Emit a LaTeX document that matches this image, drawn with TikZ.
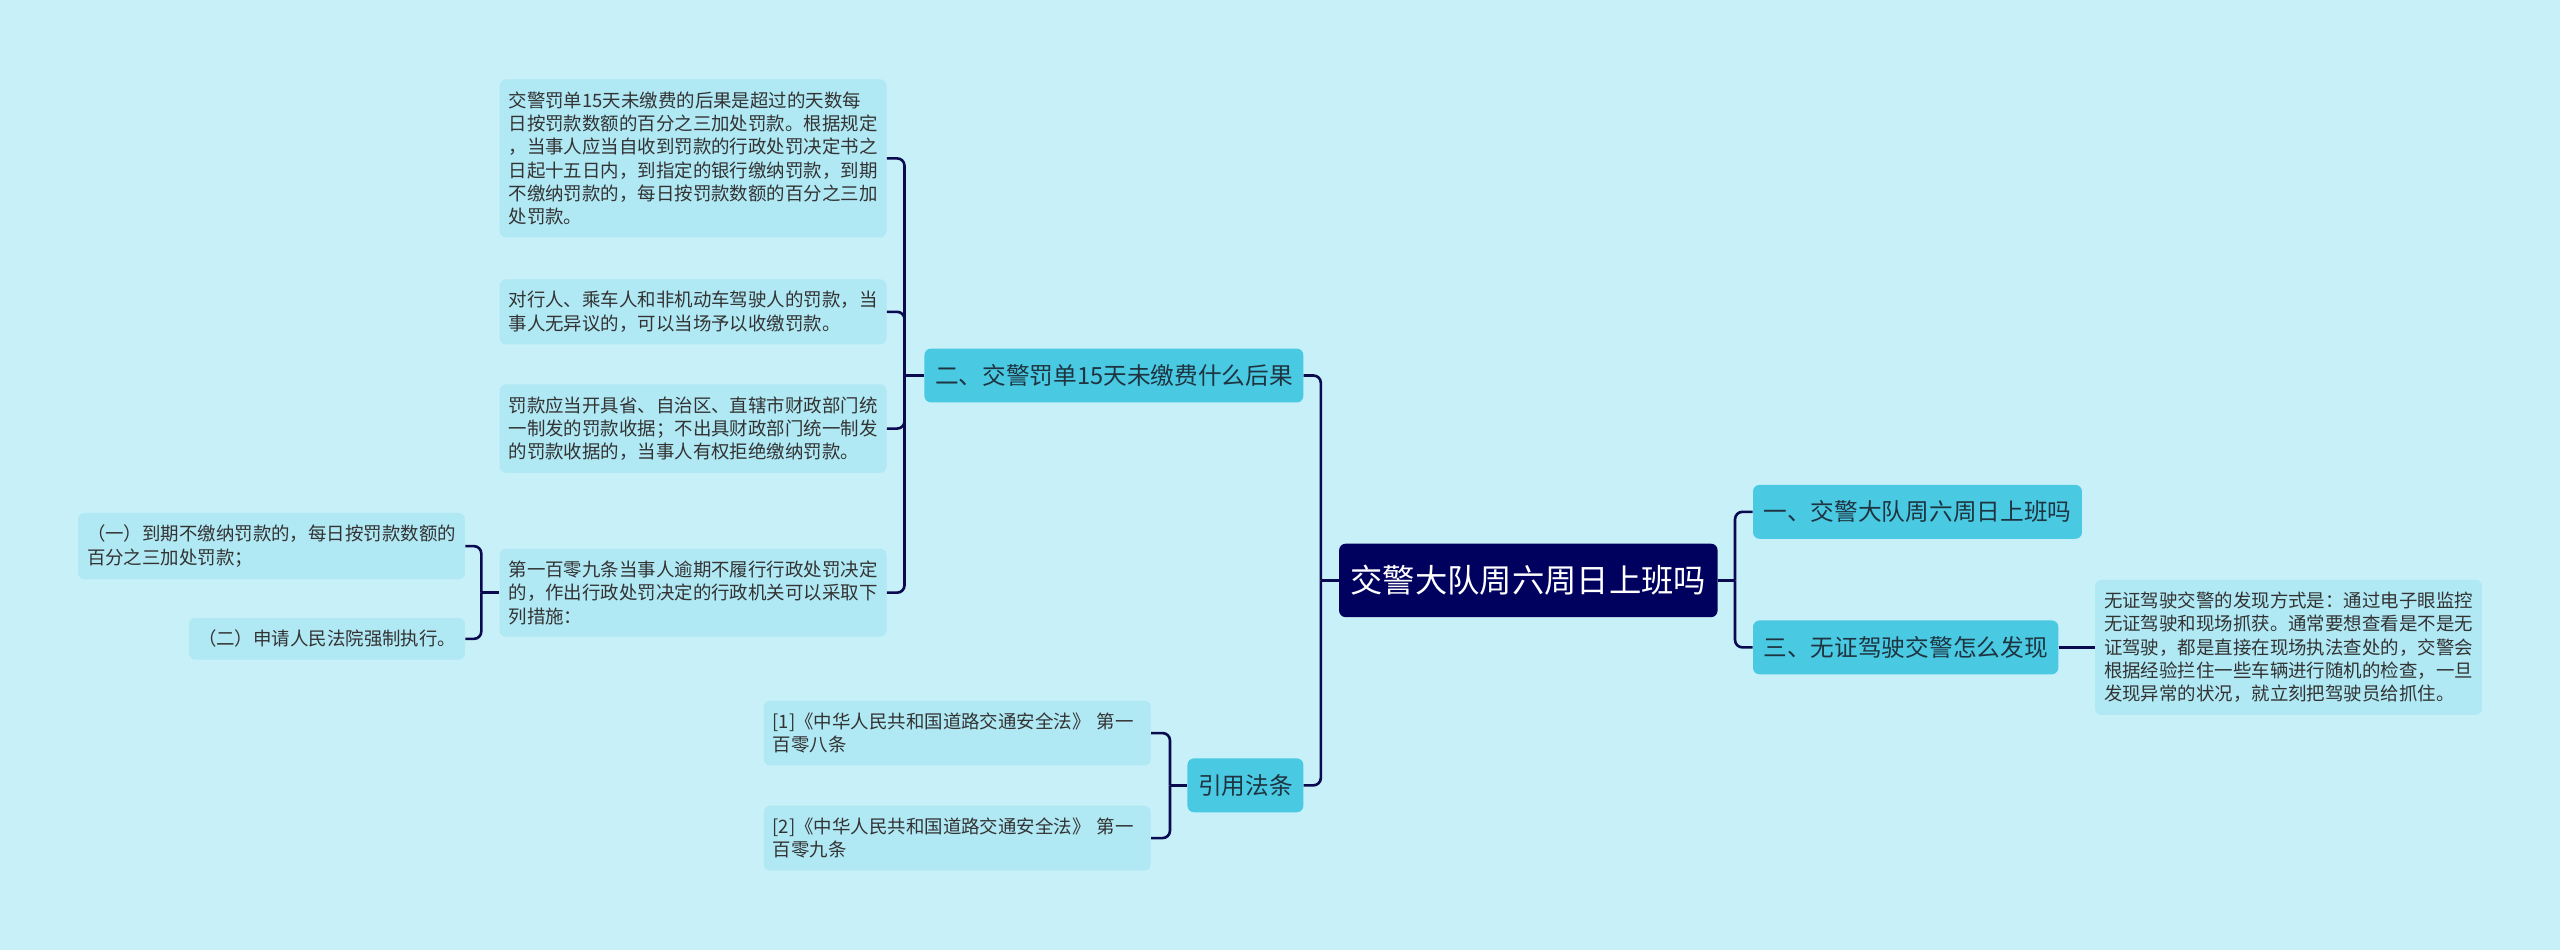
\documentclass[tikz,border=0pt]{standalone}
\usepackage{fontspec}
\newfontfamily\cjk{Noto Sans CJK SC}
\usetikzlibrary{positioning,calc}
\definecolor{pagebg}{HTML}{C8F0F8}
\definecolor{navy}{HTML}{00005E}
\definecolor{wireink}{HTML}{0A0A50}
\definecolor{topicfill}{HTML}{4AC9E3}
\definecolor{leaffill}{HTML}{B0E8F4}
\definecolor{ink}{HTML}{333333}
\definecolor{topicink}{HTML}{1E3440}
\tikzset{
  hubbox/.style={fill=navy, text=white, rounded corners=4pt,
    font=\cjk\fontsize{19.8}{24}\selectfont,
    inner xsep=7pt, inner ysep=0pt, minimum height=45pt},
  topic/.style={fill=topicfill, text=topicink, rounded corners=4pt,
    font=\cjk\fontsize{14.5}{17}\selectfont,
    inner xsep=6.5pt, inner ysep=0pt, minimum height=33pt},
  leaf/.style={fill=leaffill, text=ink, rounded corners=4pt,
    font=\cjk\fontsize{11.3}{14.3}\selectfont,
    align=left, text width=#1, inner xsep=5.5pt, inner ysep=7.4pt},
  leaf/.default=226pt,
  link/.style={draw=wireink, line width=1.6pt, rounded corners=4.5pt},
}

\begin{document}
\begin{tikzpicture}[x=1pt,y=-1pt]
  \fill[pagebg] (0,0) rectangle (1568,582);
  \useasboundingbox (0,0) rectangle (1568,582);

  % centre and right side
  \node[hubbox, anchor=west] (hub) at (820,355.5) {交警大队周六周日上班吗};
  \node[topic, anchor=west] (t1) at (1073.5,313.5) {一、交警大队周六周日上班吗};
  \node[topic, anchor=west] (t3) at (1073.5,396.5) {三、无证驾驶交警怎么发现};
  \node[leaf, anchor=west] (t3a) at (1283,396.5) {无证驾驶交警的发现方式是：通过电子眼监控\\
    无证驾驶和现场抓获。通常要想查看是不是无\\
    证驾驶，都是直接在现场执法查处的，交警会\\
    根据经验拦住一些车辆进行随机的检查，一旦\\
    发现异常的状况，就立刻把驾驶员给抓住。};

  % left side
  \node[topic, anchor=east] (t2) at (798.5,230) {二、交警罚单15天未缴费什么后果};
  \node[topic, anchor=east] (t4) at (798.5,481) {引用法条};

  \node[leaf, anchor=east] (l1) at (543.2,97) {交警罚单15天未缴费的后果是超过的天数每\\
    日按罚款数额的百分之三加处罚款。根据规定\\
    ，当事人应当自收到罚款的行政处罚决定书之\\
    日起十五日内，到指定的银行缴纳罚款，到期\\
    不缴纳罚款的，每日按罚款数额的百分之三加\\
    处罚款。};
  \node[leaf, anchor=east] (l2) at (543.2,191) {对行人、乘车人和非机动车驾驶人的罚款，当\\
    事人无异议的，可以当场予以收缴罚款。};
  \node[leaf, anchor=east] (l3) at (543.2,262.5) {罚款应当开具省、自治区、直辖市财政部门统\\
    一制发的罚款收据；不出具财政部门统一制发\\
    的罚款收据的，当事人有权拒绝缴纳罚款。};
  \node[leaf, anchor=east] (l4) at (543.2,363) {第一百零九条当事人逾期不履行行政处罚决定\\
    的，作出行政处罚决定的行政机关可以采取下\\
    列措施：};

  \node[leaf, anchor=east] (c1) at (285,334.5) {（一）到期不缴纳罚款的，每日按罚款数额的\\
    百分之三加处罚款；};
  \node[leaf=158pt, anchor=east] (c2) at (285,391.3) {（二）申请人民法院强制执行。};

  \node[leaf, anchor=east] (r1) at (705,449) {[1]《中华人民共和国道路交通安全法》 第一\\
    百零八条};
  \node[leaf, anchor=east] (r2) at (705,513.3) {[2]《中华人民共和国道路交通安全法》 第一\\
    百零九条};

  % junctions
  \coordinate (hubL) at ($(hub.west)+(-11,0)$);
  \coordinate (hubR) at ($(hub.east)+(10.5,0)$);
  \coordinate (t2L) at ($(t2.west)+(-12,0)$);
  \coordinate (l4L) at ($(l4.west)+(-11,0)$);
  \coordinate (t4L) at ($(t4.west)+(-10.5,0)$);

  % connectors
  \draw[link] (hub.west) -- (hubL);
  \draw[link] (hubL) |- (t2.east);
  \draw[link] (hubL) |- (t4.east);
  \draw[link] (hub.east) -- (hubR);
  \draw[link] (hubR) |- (t1.west);
  \draw[link] (hubR) |- (t3.west);
  \draw[link] (t3.east) -- (t3a.west);

  \draw[link] (t2.west) -- (t2L);
  \foreach \n in {l1,l2,l3,l4}
    \draw[link] (t2L) |- (\n.east);
  \draw[link] (l4.west) -- (l4L);
  \foreach \n in {c1,c2}
    \draw[link] (l4L) |- (\n.east);
  \draw[link] (t4.west) -- (t4L);
  \foreach \n in {r1,r2}
    \draw[link] (t4L) |- (\n.east);
\end{tikzpicture}
\end{document}
